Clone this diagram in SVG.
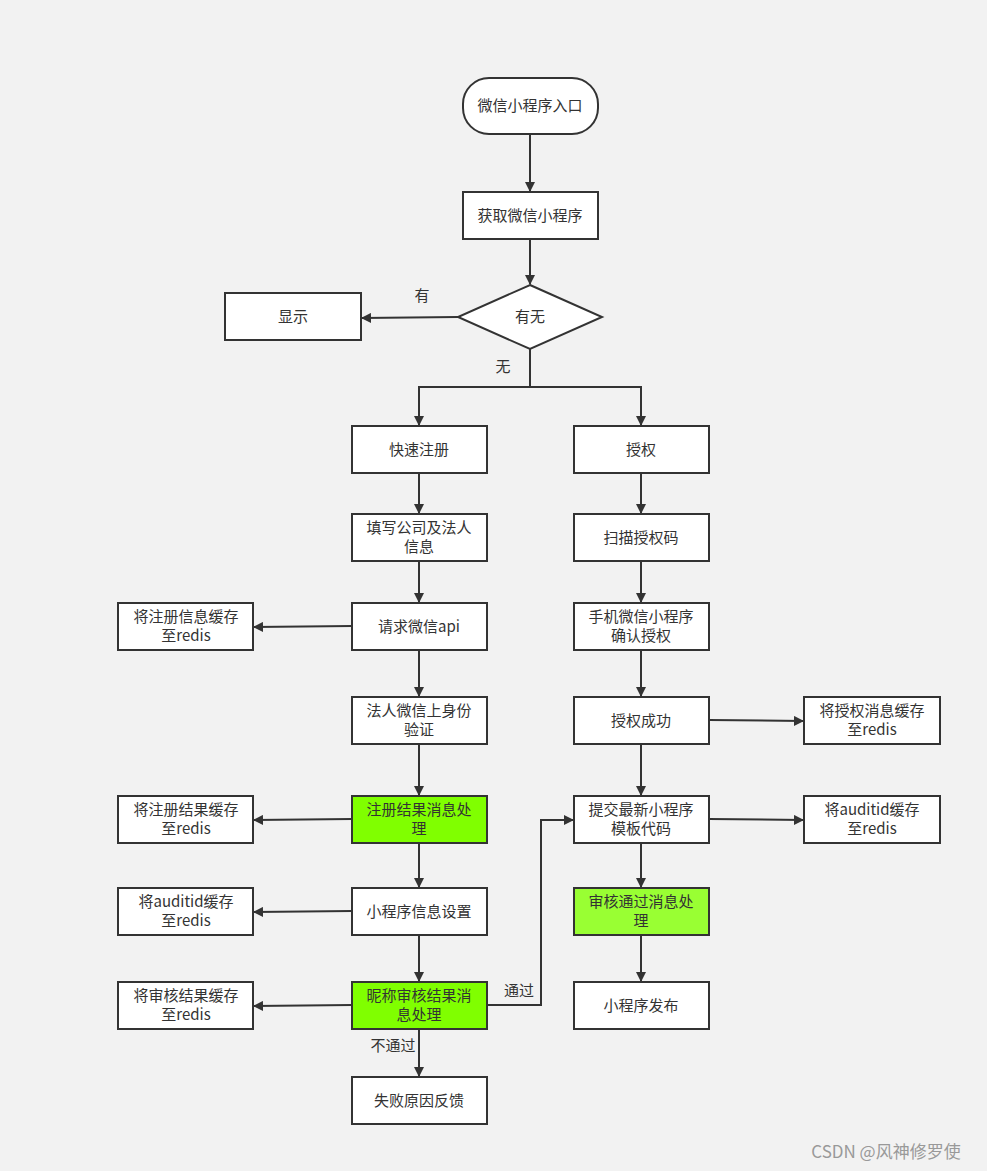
<svg xmlns="http://www.w3.org/2000/svg" width="987" height="1171" viewBox="0 0 987 1171">
<defs>
<marker id="a" markerWidth="10" markerHeight="10" refX="9" refY="5" orient="auto" markerUnits="userSpaceOnUse"><path d="M0,0 L10,5 L0,10 Z" fill="#333"/></marker>
<style>
.n{fill:#fff;stroke:#333;stroke-width:2}
.g{fill:#80ff00;stroke:#333;stroke-width:2}
.g2{fill:#99ff33;stroke:#333;stroke-width:2}
text{font-family:"Noto Sans CJK SC","Liberation Sans",sans-serif;font-size:15px;fill:#333;text-anchor:middle}
.c path{fill:none;stroke:#333;stroke-width:2;marker-end:url(#a)}
</style>
</defs>
<rect width="987" height="1171" fill="#f2f2f2"/>
<g class="c">
<path d="M530,134 V191"/>
<path d="M530,239 V284"/>
<path d="M458,317 L362,318"/>
<path d="M530,349 V387 H419 V425"/>
<path d="M530,387 H641 V425"/>
<path d="M419,473 V513"/><path d="M419,561 V602"/><path d="M419,650 V696"/><path d="M419,744 V795"/><path d="M419,843 V887"/><path d="M419,935 V981"/><path d="M419,1029 V1076"/>
<path d="M641,473 V513"/><path d="M641,561 V602"/><path d="M641,650 V696"/><path d="M641,744 V795"/><path d="M641,843 V887"/><path d="M641,935 V981"/>
<path d="M352,626 L254,627"/><path d="M352,819 L254,820"/><path d="M352,911 L254,912"/><path d="M352,1005 L254,1006"/>
<path d="M709,720 L803,721"/><path d="M709,819 L803,820"/>
<path d="M487,1005 H541 V820 H573"/>
</g>
<text x="422" y="301">有</text><text x="503" y="372">无</text>
<text x="519" y="996">通过</text><text x="393" y="1051">不通过</text>
<g id="start"><rect class="n" x="463" y="78" width="135" height="56" rx="26"/><text x="530" y="111">微信小程序入口</text></g>
<g id="get"><rect class="n" x="463" y="192" width="135" height="47"/><text x="530" y="221">获取微信小程序</text></g>
<g id="dec"><path class="n" d="M530,285 L602,317 L530,349 L458,317 Z"/><text x="530" y="322">有无</text></g>
<g id="show"><rect class="n" x="225" y="293" width="136" height="47"/><text x="293" y="322">显示</text></g>
<g id="l1"><rect class="n" x="352" y="426" width="135" height="47"/><text x="419" y="455">快速注册</text></g>
<g id="l2"><rect class="n" x="352" y="514" width="135" height="47"/><text x="419" y="533">填写公司及法人</text><text x="419" y="552">信息</text></g>
<g id="l3"><rect class="n" x="352" y="603" width="135" height="47"/><text x="419" y="632">请求微信api</text></g>
<g id="l4"><rect class="n" x="352" y="697" width="135" height="47"/><text x="419" y="716">法人微信上身份</text><text x="419" y="735">验证</text></g>
<g id="l5"><rect class="g" x="352" y="796" width="135" height="47"/><text x="419" y="815">注册结果消息处</text><text x="419" y="834">理</text></g>
<g id="l6"><rect class="n" x="352" y="888" width="135" height="47"/><text x="419" y="917">小程序信息设置</text></g>
<g id="l7"><rect class="g" x="352" y="982" width="135" height="47"/><text x="419" y="1001">昵称审核结果消</text><text x="419" y="1020">息处理</text></g>
<g id="l8"><rect class="n" x="352" y="1077" width="135" height="47"/><text x="419" y="1106">失败原因反馈</text></g>
<g id="r1"><rect class="n" x="574" y="426" width="135" height="47"/><text x="641" y="455">授权</text></g>
<g id="r2"><rect class="n" x="574" y="514" width="135" height="47"/><text x="641" y="543">扫描授权码</text></g>
<g id="r3"><rect class="n" x="574" y="603" width="135" height="47"/><text x="641" y="622">手机微信小程序</text><text x="641" y="641">确认授权</text></g>
<g id="r4"><rect class="n" x="574" y="697" width="135" height="47"/><text x="641" y="726">授权成功</text></g>
<g id="r5"><rect class="n" x="574" y="796" width="135" height="47"/><text x="641" y="815">提交最新小程序</text><text x="641" y="834">模板代码</text></g>
<g id="r6"><rect class="g2" x="574" y="888" width="135" height="47"/><text x="641" y="907">审核通过消息处</text><text x="641" y="926">理</text></g>
<g id="r7"><rect class="n" x="574" y="982" width="135" height="47"/><text x="641" y="1011">小程序发布</text></g>
<g id="s1"><rect class="n" x="118" y="603" width="135" height="47"/><text x="186" y="622">将注册信息缓存</text><text x="186" y="641">至redis</text></g>
<g id="s2"><rect class="n" x="118" y="796" width="135" height="47"/><text x="186" y="815">将注册结果缓存</text><text x="186" y="834">至redis</text></g>
<g id="s3"><rect class="n" x="118" y="888" width="135" height="47"/><text x="186" y="907">将auditid缓存</text><text x="186" y="926">至redis</text></g>
<g id="s4"><rect class="n" x="118" y="982" width="135" height="47"/><text x="186" y="1001">将审核结果缓存</text><text x="186" y="1020">至redis</text></g>
<g id="s5"><rect class="n" x="804" y="697" width="136" height="47"/><text x="872" y="716">将授权消息缓存</text><text x="872" y="735">至redis</text></g>
<g id="s6"><rect class="n" x="804" y="796" width="136" height="47"/><text x="872" y="815">将auditid缓存</text><text x="872" y="834">至redis</text></g>
<text x="886" y="1158" style="font-size:17px;fill:#999">CSDN @风神修罗使</text>
</svg>
